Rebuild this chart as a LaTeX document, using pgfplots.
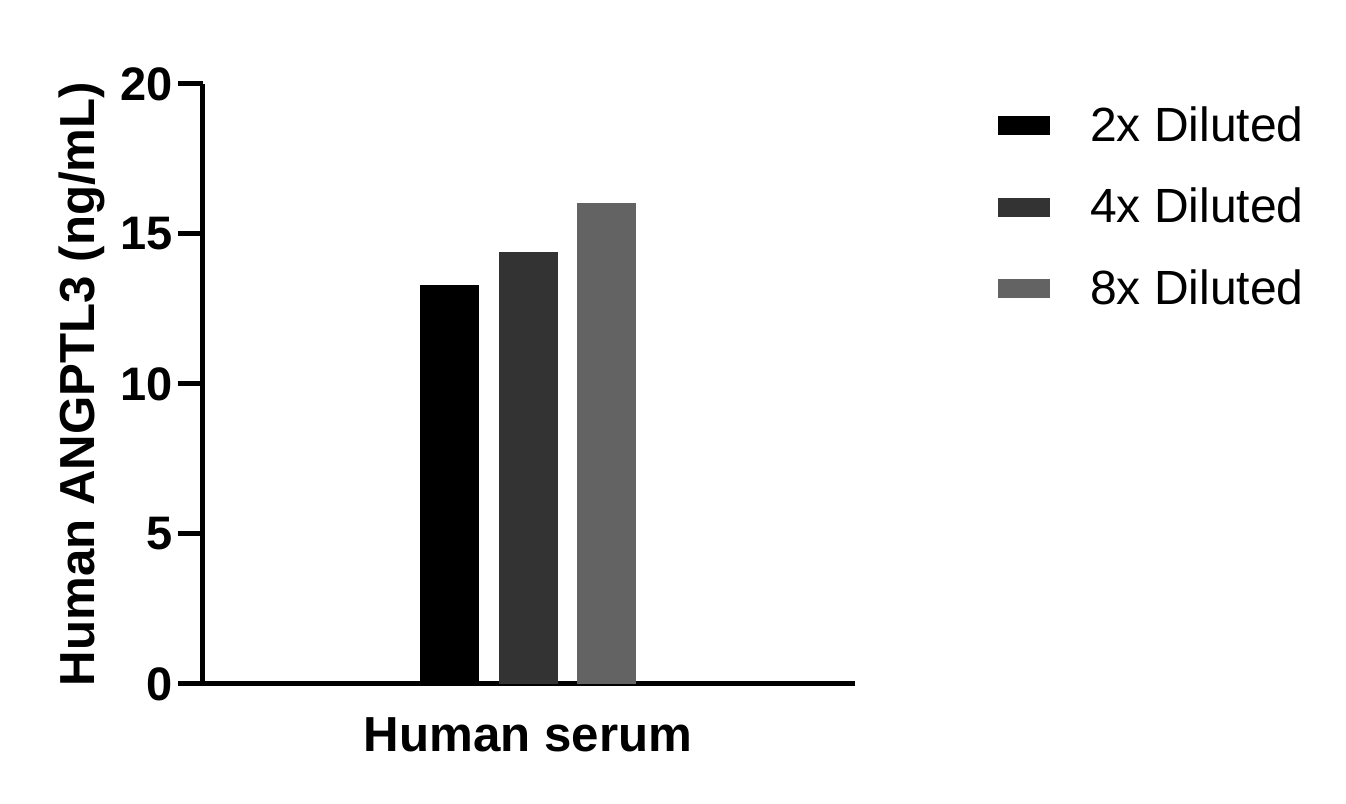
\documentclass[border=0pt]{standalone}
\usepackage{pgfplots}
\pgfplotsset{compat=1.18}
\usepackage{fontspec}
\setmainfont{Liberation Sans}
\begin{document}
\begin{tikzpicture}
\begin{axis}[
  scale only axis,
  width=326pt, height=300pt,
  xmin=0, xmax=652,
  ymin=0, ymax=20,
  ytick={0,5,10,15,20},
  xtick={325}, xticklabels={Human serum},
  axis x line*=bottom, axis y line*=left,
  axis line style={line width=2.5pt},
  every tick/.style={line width=2.5pt, black},
  ytick style={line width=2.5pt},
  tick align=outside,
  major tick length=12.5pt,
  x tick style={draw=none},
  /pgf/number format/assume math mode=true,
  yticklabel style={font=\fontsize{23.5}{26}\selectfont\bfseries, xshift=1pt},
  xticklabel style={font=\fontsize{24.6}{28}\selectfont\bfseries, yshift=-1pt},
  ylabel={Human ANGPTL3 (ng/mL)},
  ylabel style={font=\fontsize{24.6}{28}\selectfont\bfseries, yshift=1pt},
  clip=false,
  legend style={draw=none, at={(rel axis cs:1.219,0.97)}, anchor=north west,
    font=\fontsize{24}{28}\selectfont, row sep=18pt, inner sep=0pt,
    /tikz/every even column/.append style={column sep=0pt}},
  legend cell align=left,
  legend image code/.code={\fill[#1] (0pt,-4.75pt) rectangle (26pt,4.75pt);},
]
\addplot[ybar, bar width=59, bar shift=0pt, fill=black, draw=none] coordinates {(246,13.3)};
\addlegendentry{\hspace{18pt}2x Diluted}
\addplot[ybar, bar width=59, bar shift=0pt, fill={rgb,255:red,51;green,51;blue,51}, draw=none] coordinates {(325,14.4)};
\addlegendentry{\hspace{18pt}4x Diluted}
\addplot[ybar, bar width=59, bar shift=0pt, fill={rgb,255:red,99;green,99;blue,99}, draw=none] coordinates {(403,16.04)};
\addlegendentry{\hspace{18pt}8x Diluted}
\end{axis}
\path[use as bounding box] ([xshift=-101.5pt,yshift=-60pt]current axis.south west) rectangle ([xshift=571.5pt,yshift=342pt]current axis.south west);
\end{tikzpicture}
\end{document}
